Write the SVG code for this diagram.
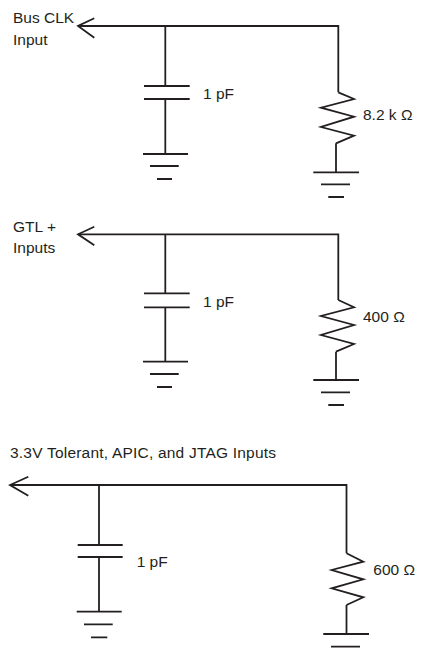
<svg xmlns="http://www.w3.org/2000/svg" width="421" height="658" viewBox="0 0 421 658">
<style>
.w{fill:none;stroke:#231f20;stroke-width:1.8;stroke-linejoin:miter;stroke-linecap:butt}
.t{font-family:"Liberation Sans",Arial,sans-serif;font-size:15.5px;fill:#231f20}
</style>
<rect width="421" height="658" fill="#fff"/>
<g id="connectors">
<path class="w" d="M78,26 H338.3 V92.3"/>
<path class="w" d="M165.3,26 V86"/>
<path class="w" d="M165.3,99 V154"/>
<path class="w" d="M336,143.3 V172.3"/>
<path class="w" d="M78,234.3 H338.3 V300"/>
<path class="w" d="M165.3,234.3 V293.3"/>
<path class="w" d="M165.3,307.3 V361.7"/>
<path class="w" d="M336,351.7 V380"/>
<path class="w" d="M10,485 H346.5 V553.3"/>
<path class="w" d="M99,485 V545"/>
<path class="w" d="M99,557 V611.7"/>
<path class="w" d="M346.5,605 V634"/>
</g>
<g id="circuit1">
<g id="label1"><text class="t" x="13" y="22.5">Bus CLK</text><text class="t" x="13" y="45">Input</text></g>
<path id="arrow1" class="w" d="M94.3,18.3 L78,26 L94.3,37.7"/>
<g id="cap1"><path class="w" d="M144,86 H189.7 M144,99 H189.7"/><text class="t" x="203" y="99">1 pF</text></g>
<g id="gnd1a"><path class="w" d="M143,154 H188 M150,166 H178.7 M157,179 H172"/></g>
<g id="res1"><path class="w" d="M338.3,92.3 L354,99 L321,107.7 L354,116.7 L321,127 L354,135.7 L336,143.3"/><text class="t" x="363" y="120">8.2 k Ω</text></g>
<g id="gnd1b"><path class="w" d="M313.3,172.3 H359 M321,184.3 H350 M328.3,197 H344"/></g>
</g>
<g id="circuit2">
<g id="label2"><text class="t" x="13" y="231.7">GTL +</text><text class="t" x="13" y="252.7">Inputs</text></g>
<path id="arrow2" class="w" d="M94.3,226.7 L78,234.3 L94.3,245.3"/>
<g id="cap2"><path class="w" d="M144,293.3 H189.7 M144,307.3 H189.7"/><text class="t" x="203" y="306.7">1 pF</text></g>
<g id="gnd2a"><path class="w" d="M143,361.7 H188 M150,374 H178.7 M157,387 H172"/></g>
<g id="res2"><path class="w" d="M338.3,300 L354,307.3 L321,316 L354,325 L321,335 L354,344 L336,351.7"/><text class="t" x="363" y="321.7">400 Ω</text></g>
<g id="gnd2b"><path class="w" d="M313.3,380 H359 M321,392.3 H350 M328.3,405 H344"/></g>
</g>
<g id="circuit3">
<text id="label3" class="t" x="10" y="458.3" textLength="266" lengthAdjust="spacing">3.3V Tolerant, APIC, and JTAG Inputs</text>
<path id="arrow3" class="w" d="M28.3,476.7 L10,485 L28.3,495.7"/>
<g id="cap3"><path class="w" d="M77.7,545 H122.7 M77.7,557 H122.7"/><text class="t" x="136.7" y="566.7">1 pF</text></g>
<g id="gnd3a"><path class="w" d="M76.7,611.7 H121.7 M84,624.3 H112.7 M91,637.3 H107.3"/></g>
<g id="res3"><path class="w" d="M346.5,553.3 L363.3,561.7 L331.7,570 L363.3,579.3 L331.7,588.3 L363.3,597.3 L346.5,605"/><text class="t" x="373.3" y="575">600 Ω</text></g>
<g id="gnd3b"><path class="w" d="M323.3,634 H369 M331,646.7 H360"/></g>
</g>
</svg>
